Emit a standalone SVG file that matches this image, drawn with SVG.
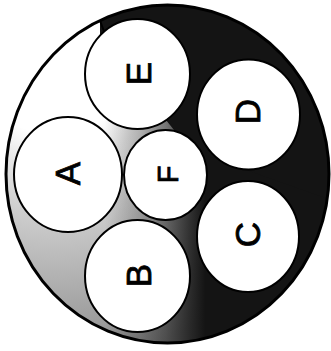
<svg xmlns="http://www.w3.org/2000/svg" width="331" height="351" viewBox="0 0 331 351">
  <style>
    .part { fill: #ffffff; stroke: #000000; stroke-width: 2; }
    .lbl { font-family: "Liberation Sans", Arial, sans-serif; font-size: 35px; fill: #000000; stroke: #000000; stroke-width: 0.8; text-anchor: middle; }
    .lbl-s { font-size: 29px; }
  </style>
  <defs>
    <clipPath id="outerClip">
      <ellipse cx="167.5" cy="174" rx="161.5" ry="169"/>
    </clipPath>
    <radialGradient id="lightBase" gradientUnits="userSpaceOnUse" cx="55" cy="60" r="300">
      <stop offset="0" stop-color="#ffffff"/>
      <stop offset="0.25" stop-color="#ffffff"/>
      <stop offset="0.35" stop-color="#e8e8e8"/>
      <stop offset="0.5" stop-color="#d0d0d0"/>
      <stop offset="0.7" stop-color="#b5b5b5"/>
      <stop offset="0.9" stop-color="#9a9a9a"/>
      <stop offset="1" stop-color="#8a8a8a"/>
    </radialGradient>
    <linearGradient id="darkOverlay" gradientUnits="userSpaceOnUse" x1="0" y1="0" x2="331" y2="0">
      <stop offset="0.317" stop-color="#141414" stop-opacity="0"/>
      <stop offset="0.423" stop-color="#141414" stop-opacity="0.25"/>
      <stop offset="0.498" stop-color="#141414" stop-opacity="0.5"/>
      <stop offset="0.574" stop-color="#141414" stop-opacity="0.82"/>
      <stop offset="0.62" stop-color="#141414" stop-opacity="1"/>
    </linearGradient>
  </defs>

  <g id="housing">
    <g clip-path="url(#outerClip)">
      <rect x="0" y="0" width="331" height="351" fill="url(#lightBase)"/>
      <rect x="0" y="0" width="331" height="351" fill="url(#darkOverlay)"/>
      <path d="M100,0 H331 V200 L190,150 L150,100 L100,42 Z" fill="#141414"/>
    </g>
    <line x1="100" y1="20.5" x2="104" y2="31.5" stroke="#000" stroke-width="2"/>
    <ellipse cx="167.5" cy="174" rx="161.5" ry="169" fill="none" stroke="#000" stroke-width="3"/>
  </g>

  <g id="node-E">
    <ellipse class="part" cx="137.5" cy="74" rx="52.5" ry="55"/>
    <text class="lbl" transform="translate(138,73.5) rotate(-90)" y="12.5">E</text>
  </g>
  <g id="node-D">
    <ellipse class="part" cx="248.5" cy="114.5" rx="51.5" ry="55"/>
    <text class="lbl" transform="translate(247,111.5) rotate(-90)" y="12.5">D</text>
  </g>
  <g id="node-A">
    <ellipse class="part" cx="68" cy="174.5" rx="54" ry="57.5"/>
    <text class="lbl" transform="translate(67.5,173.5) rotate(-90)" y="12.5">A</text>
  </g>
  <g id="node-F">
    <ellipse class="part" cx="165.5" cy="175" rx="41.5" ry="45"/>
    <text class="lbl lbl-s" transform="translate(167,174.5) rotate(-90)" y="10.5">F</text>
  </g>
  <g id="node-C">
    <ellipse class="part" cx="248" cy="236.5" rx="51" ry="55.5"/>
    <text class="lbl" transform="translate(247,234.5) rotate(-90)" y="12.5">C</text>
  </g>
  <g id="node-B">
    <ellipse class="part" cx="137.5" cy="276" rx="52.5" ry="56"/>
    <text class="lbl" transform="translate(138.5,275.5) rotate(-90)" y="12.5">B</text>
  </g>
</svg>
